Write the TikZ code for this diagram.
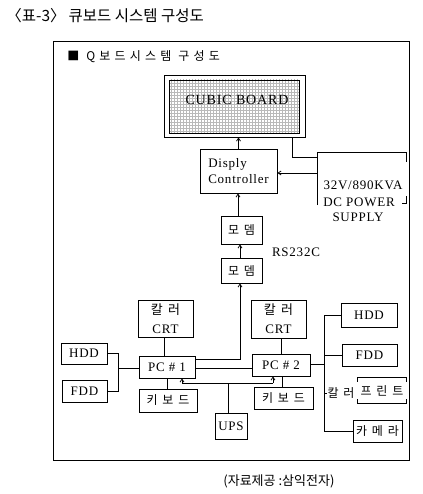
\documentclass[tikz,border=0pt]{standalone}
\usepackage{fontspec}
\setmainfont{Liberation Serif}
\newfontfamily\kr{Noto Sans CJK KR}
\newfontfamily\krS[LetterSpace=40]{Noto Sans CJK KR}
\newfontfamily\krT[LetterSpace=35]{Noto Sans CJK KR}
\newfontfamily\ls[LetterSpace=6]{Liberation Serif}
\usetikzlibrary{arrows.meta,patterns}
\begin{document}
\begin{tikzpicture}[x=1pt,y=-1pt,line width=0.8pt,
  box/.style={draw,inner sep=0pt,align=center,font=\ls\fontsize{13}{16}\selectfont},
  kbox/.style={draw,inner sep=0pt,align=center,font=\krS\fontsize{12}{14}\selectfont},
  lbl/.style={inner sep=0pt,font=\ls\fontsize{13}{16}\selectfont},
  arr/.style={-{Straight Barb[length=3pt,width=4pt]}}]
\useasboundingbox (0,0) rectangle (422,494);
\fill[white] (0,0) rectangle (422,494);
% titles
\node[anchor=west,inner sep=0pt,font=\kr\fontsize{15.5}{18}\selectfont] (title) at (6,16) {〈표-3〉\hspace{3pt}큐보드 시스템 구성도};
\node[draw,line width=1pt,minimum width=356,minimum height=418] (frame) at (231,251) {};
\node[anchor=west,inner sep=0pt,font=\krT\fontsize{12}{14}\selectfont] (sub) at (67,57) {■ Q보드시스템 구성도};
% cubic board
\node[draw,minimum width=141,minimum height=62] (cubO) at (234.5,106) {};
\node[draw,pattern=grid,pattern color=gray!55,minimum width=130,minimum height=53] (cub) at (234,106.5) {};
\node[lbl,font=\ls\fontsize{14}{16}\selectfont] (cubT) at (237,100) {CUBIC BOARD};
% controller
\node[box,align=left,minimum width=77,minimum height=44] (ctrl) at (238.5,171) {Disply\\Controller};
% power supply
\coordinate (pw1) at (317,157);
\coordinate (pw2) at (317,173);
\node[lbl] (pv) at (363,185) {32V/890KVA};
\node[lbl] (pdc) at (359,202) {DC POWER};
\node[lbl] (psu) at (358,217) {SUPPLY};
\draw (317,205) -- (317,152) -- (406,152) -- (406,162);
\draw (402,203) -- (406,203) -- (406,196);
\draw[arr] (ctrl.north) -- (ctrl.north |- cubO.south);
\draw (cubO.south -| 292,0) |- (pw1);
\draw[arr] (pw2) -- (pw2 -| ctrl.east);
% modems
\node[kbox,minimum width=41,minimum height=28] (m1) at (241.5,230) {모뎀};
\node[kbox,minimum width=41,minimum height=25] (m2) at (241.5,270.5) {모뎀};
\node[lbl] (rs) at (296,252) {RS232C};
\draw[arr] (m1.north -| 238,0) -- (ctrl.south -| 238,0);
\draw[arr] (m2.north -| 240,0) -- (m1.south -| 240,0);
% PCs
\node[box,minimum width=56,minimum height=22] (pc1) at (167,367) {PC \# 1};
\node[box,minimum width=58,minimum height=22] (pc2) at (281,365) {PC \# 2};
\draw[arr] (pc1.east |- 0,359) -| (m2.south -| 240,0);
\draw (pc1.east |- 0,368) -- (pc2.west |- 0,368);
% CRTs
\node[box,font=\ls\fontsize{13}{19}\selectfont,minimum width=55,minimum height=37] (crt1) at (165.5,318.5) {{\krS 칼러}\\CRT};
\node[box,font=\ls\fontsize{13}{19}\selectfont,minimum width=55,minimum height=38] (crt2) at (278.5,319) {{\krS 칼러}\\CRT};
\draw (crt1.south -| 164,0) -- (pc1.north -| 164,0);
\draw (crt2.south -| 281,0) -- (pc2.north -| 281,0);
% keyboards, UPS
\node[kbox,minimum width=58,minimum height=23] (kb1) at (168,400.5) {키보드};
\node[kbox,minimum width=59,minimum height=22] (kb2) at (283.5,398) {키보드};
\draw (pc1.south -| 167,0) -- (kb1.north -| 167,0);
\draw (pc2.south -| 282,0) -- (kb2.north -| 282,0);
\node[box,minimum width=32,minimum height=26] (ups) at (231,426) {UPS};
\coordinate (bl) at (182,383);
\coordinate (br) at (273,383);
\draw (bl) -- (br);
\draw[arr] (bl) -- (bl |- pc1.south);
\draw[arr] (br) -- (br |- pc2.south);
\draw (ups.north -| 228,0) -- (bl -| 228,0);
% left drives
\node[box,minimum width=46,minimum height=21] (hddL) at (84,353.5) {HDD};
\node[box,minimum width=45,minimum height=22] (fddL) at (84.5,391) {FDD};
\coordinate (lj) at (118,368);
\draw (hddL.east) -| (lj);
\draw (fddL.east) -| (lj);
\draw (lj) -- (lj -| pc1.west);
% right peripherals
\node[box,minimum width=56,minimum height=24] (hddR) at (369,315) {HDD};
\node[box,minimum width=55,minimum height=22] (fddR) at (369.5,355) {FDD};
\node[kbox,draw=none,minimum width=48,minimum height=25] (prt) at (382,390.5) {프린트};
\draw (prt.north west) ++(0,4) -- (prt.north west) -- (prt.north east) -- ++(0,4);
\draw (prt.south west) ++(0,-4) -- (prt.south west) -- (prt.south east) -- ++(0,-4);
\node[inner sep=0pt,font=\krS\fontsize{12}{14}\selectfont] (clr) at (341,393) {칼러};
\node[kbox,minimum width=49,minimum height=22] (cam) at (377.5,431) {카메라};
\draw (hddR.west) -- (hddR.west -| 324,0) -- (cam.west -| 324,0) -- (cam.west);
\draw (fddR.west) -- (fddR.west -| 324,0);
\draw (pc2.east |- 0,364) -- (324,364);
\draw (324,393) -- (clr.west);
% source
\node[anchor=west,inner sep=0pt,font=\kr\fontsize{13}{15}\selectfont] (src) at (223,481) {(자료제공 :삼익전자)};
\end{tikzpicture}
\end{document}
